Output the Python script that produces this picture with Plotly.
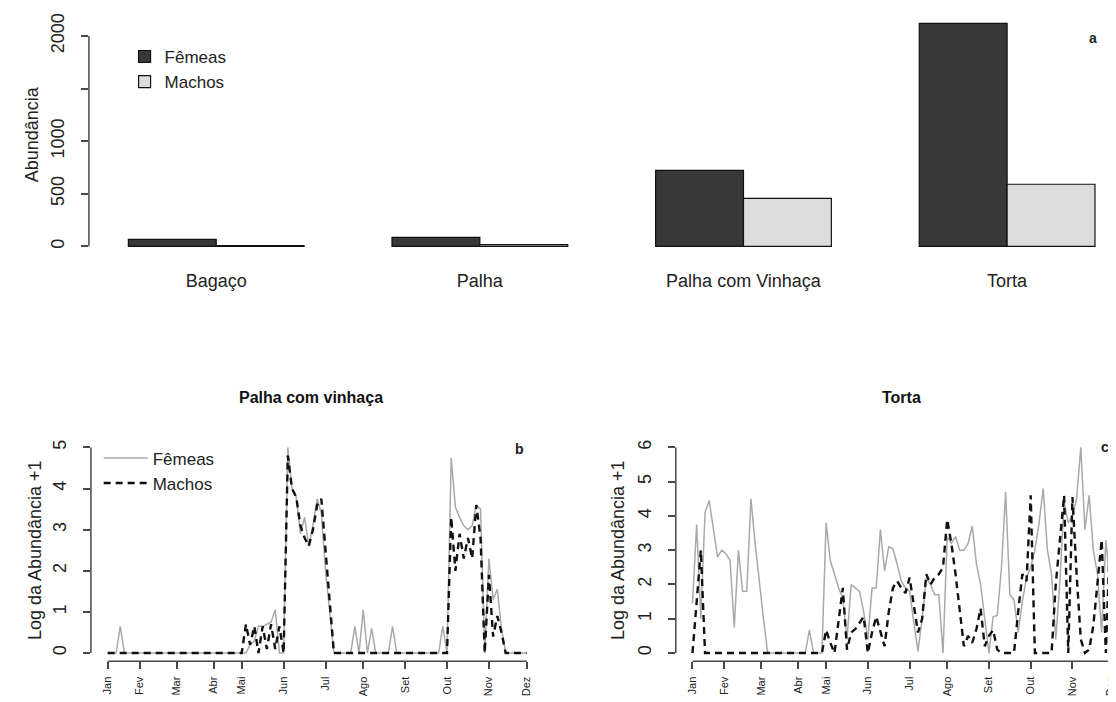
import plotly.graph_objects as go

# ---------------- data ----------------
CATEGORIES = ["Bagaço", "Palha", "Palha com Vinhaça", "Torta"]
FEMEAS_TOTAL = [66, 86, 722, 2120]
MACHOS_TOTAL = [6, 16, 455, 590]

MONTHS = ["Jan", "Fev", "Mar", "Abr", "Mai", "Jun", "Jul", "Ago", "Set", "Out", "Nov", "Dez"]
MONTH_POS = [0, 7.6, 16.5, 25.3, 32, 42, 52, 61, 71, 81, 91, 100]
SAMPLE = list(range(101))

PV_FEMEAS = [
    0, 0, 0, 0.65, 0, 0, 0, 0, 0, 0,
    0, 0, 0, 0, 0, 0, 0, 0, 0, 0,
    0, 0, 0, 0, 0, 0, 0, 0, 0, 0,
    0, 0, 0, 0, 0.2, 0.3, 0.65, 0.65, 0.7, 0.75,
    1.05, 0, 0, 5.0, 4.0, 3.8, 2.9, 3.3, 2.6, 3.1,
    3.75, 3.4, 2.0, 1.0, 0, 0, 0, 0, 0, 0.65,
    0, 1.05, 0, 0.6, 0, 0, 0, 0, 0.65, 0,
    0, 0, 0, 0, 0, 0, 0, 0, 0, 0,
    0.65, 0, 4.75, 3.55, 3.3, 3.1, 3.0, 3.1, 3.6, 3.5,
    0, 2.3, 1.3, 1.55, 0.6, 0, 0, 0, 0, 0,
    0,
]
PV_MACHOS = [
    0, 0, 0, 0, 0, 0, 0, 0, 0, 0,
    0, 0, 0, 0, 0, 0, 0, 0, 0, 0,
    0, 0, 0, 0, 0, 0, 0, 0, 0, 0,
    0, 0, 0, 0.7, 0.2, 0.65, 0, 0.65, 0.1, 0.7,
    0.1, 0.65, 0, 4.8, 4.0, 3.8, 3.1, 2.8, 2.6, 3.0,
    3.6, 3.75, 2.5, 1.1, 0, 0, 0, 0, 0, 0,
    0, 0, 0, 0, 0, 0, 0, 0, 0, 0,
    0, 0, 0, 0, 0, 0, 0, 0, 0, 0,
    0, 0, 3.3, 2.0, 2.9, 2.3, 2.8, 2.3, 3.6, 2.8,
    0, 1.9, 0.4, 0.9, 0.5, 0, 0, 0, 0, 0,
    0,
]
TO_FEMEAS = [
    1.45, 3.75, 1.0, 4.1, 4.45, 3.6, 2.8, 3.0, 2.9, 2.7,
    0.75, 3.0, 1.8, 1.8, 4.5, 3.2, 2.0, 1.0, 0, 0,
    0, 0, 0, 0, 0, 0, 0, 0, 0.67, 0,
    0, 0, 3.8, 2.7, 2.3, 1.9, 1.6, 0.4, 2.0, 1.9,
    1.8, 1.2, 0.4, 1.9, 1.9, 3.6, 2.4, 3.1, 3.05, 2.6,
    2.1, 1.9, 1.8, 0.9, 0.05, 1.0, 2.2, 2.0, 1.7, 1.7,
    0, 3.4, 3.2, 3.4, 3.0, 3.0, 3.2, 3.7, 2.6, 2.0,
    1.0, 0, 1.06, 1.1, 2.5, 4.7, 1.7, 1.55, 0.6, 1.5,
    2.2, 2.5, 3.0, 3.8, 4.8, 3.0, 2.3, 0.4, 2.1, 4.4,
    3.8, 4.0, 4.5, 6.0, 3.6, 4.6, 3.0, 2.3, 0.6, 3.3,
    2.0,
]
TO_MACHOS = [
    0, 1.5, 3.0, 0, 0, 0, 0, 0, 0, 0,
    0, 0, 0, 0, 0, 0, 0, 0, 0, 0,
    0, 0, 0, 0, 0, 0, 0, 0, 0, 0,
    0, 0, 0.67, 0.3, 0, 1.0, 1.9, 0.1, 0.6, 0.7,
    0.9, 1.06, 0, 0.6, 1.06, 0.6, 0.2, 1.2, 1.9, 2.1,
    1.9, 1.75, 2.2, 1.4, 0.6, 1.0, 2.3, 2.0, 2.2, 2.3,
    2.5, 3.9, 3.2, 2.3, 1.2, 0.2, 0.5, 0.3, 0.7, 1.3,
    0.2, 0.5, 0.67, 0.1, 0, 0, 0, 0, 1.2, 2.3,
    2.1, 4.6, 0, 0, 0, 0, 0, 2.0, 3.3, 4.6,
    0, 4.55, 2.3, 0.4, 0, 0.1, 0.8, 2.0, 3.3, 0,
    3.4,
]

# ---------------- layout helpers ----------------
W, H = 1116, 702
OFF = 8  # the page body margin shifts the figure by 8 px
FONT = "Liberation Sans, Arial, Helvetica, sans-serif"
INK = "#222222"
AXC = "#484848"


def fx(px):
    return (px - OFF) / W


def fy(py):
    return 1 - (py - OFF) / H


fig = go.Figure()

# top bar chart
fig.add_trace(go.Bar(x=CATEGORIES, y=FEMEAS_TOTAL, name="Fêmeas",
                     marker=dict(color="#383838", line=dict(color="#111111", width=1.2)),
                     xaxis="x", yaxis="y", legend="legend"))
fig.add_trace(go.Bar(x=CATEGORIES, y=MACHOS_TOTAL, name="Machos",
                     marker=dict(color="#dcdcdc", line=dict(color="#111111", width=1.2)),
                     xaxis="x", yaxis="y", legend="legend"))

# bottom-left: Palha com vinhaça
fig.add_trace(go.Scatter(x=SAMPLE, y=PV_FEMEAS, mode="lines", name="Fêmeas",
                         line=dict(color="#a9a9a9", width=1.5),
                         xaxis="x2", yaxis="y2", legend="legend2"))
fig.add_trace(go.Scatter(x=SAMPLE, y=PV_MACHOS, mode="lines", name="Machos",
                         line=dict(color="#111111", width=2.4, dash="7px,5px"),
                         xaxis="x2", yaxis="y2", legend="legend2"))

# bottom-right: Torta
fig.add_trace(go.Scatter(x=SAMPLE, y=TO_FEMEAS, mode="lines", name="Fêmeas",
                         line=dict(color="#a9a9a9", width=1.5),
                         xaxis="x3", yaxis="y3", showlegend=False))
fig.add_trace(go.Scatter(x=SAMPLE, y=TO_MACHOS, mode="lines", name="Machos",
                         line=dict(color="#111111", width=2.4, dash="7px,5px"),
                         xaxis="x3", yaxis="y3", showlegend=False))

tickfont_big = dict(family=FONT, size=18, color=INK)
month_font = dict(family=FONT, size=11, color=INK)
title_font = dict(family=FONT, size=18, color=INK)

common_y = dict(showgrid=False, zeroline=False, showline=False, ticks="outside",
                ticklen=7, tickwidth=1.5, tickcolor=AXC, tickangle=-90,
                tickfont=tickfont_big, ticklabelstandoff=10)

common_x_month = dict(showgrid=False, zeroline=False, showline=False, ticks="outside",
                      ticklen=7, tickwidth=1.5, tickcolor=AXC,
                      tickvals=MONTH_POS, ticktext=MONTHS, tickangle=-90,
                      tickfont=month_font, ticklabelstandoff=3)

fig.update_layout(
    width=W, height=H, autosize=False,
    margin=dict(l=0, r=0, t=0, b=0),
    paper_bgcolor="white", plot_bgcolor="white",
    font=dict(family=FONT, color=INK),
    barmode="group", bargap=1/3, bargroupgap=0,
    showlegend=True,
    xaxis=dict(domain=[fx(89.2), fx(1116)], range=[-0.483, 3.398], anchor="y",
               showgrid=False, zeroline=False, showline=False, ticks="",
               tickfont=dict(family=FONT, size=18, color=INK),
               ticklabelstandoff=13),
    yaxis=dict(domain=[fy(254.6), fy(13.4)], range=[-84.8, 2204.8], anchor="x",
               tickvals=[0, 500, 1000, 1500, 2000],
               ticktext=["0", "500", "1000", "", "2000"],
               title=dict(text="Abundância", font=title_font, standoff=4),
               **common_y),
    xaxis2=dict(domain=[fx(91.2), fx(545.3)], range=[-4, 104], anchor="y2",
                **common_x_month),
    yaxis2=dict(domain=[fy(661.2), fy(438.8)], range=[-0.2, 5.2], anchor="x2",
                tickvals=[0, 1, 2, 3, 4, 5],
                title=dict(text="Log da Abundância +1", font=title_font, standoff=3),
                **common_y),
    xaxis3=dict(domain=[fx(678.2), fx(1116)], range=[-4, 100.48], anchor="y3",
                **common_x_month),
    yaxis3=dict(domain=[fy(661.2), fy(438.8)], range=[-0.24, 6.24], anchor="x3",
                tickvals=[0, 1, 2, 3, 4, 5, 6],
                title=dict(text="Log da Abundância +1", font=title_font, standoff=5),
                **common_y),
    legend=dict(x=fx(125), y=fy(38), xanchor="left", yanchor="top",
                bgcolor="rgba(0,0,0,0)", borderwidth=0,
                font=dict(family=FONT, size=17, color=INK),
                itemwidth=30, tracegroupgap=0),
    legend2=dict(x=fx(99), y=fy(440), xanchor="left", yanchor="top",
                 bgcolor="rgba(0,0,0,0)", borderwidth=0,
                 font=dict(family=FONT, size=17, color=INK),
                 itemwidth=44, tracegroupgap=0),
)

# R-style axis lines spanning only the tick range
line_style = dict(color=AXC, width=1.5)
shapes = [
    dict(type="line", xref="x domain", yref="y", x0=0, x1=0, y0=0, y1=2000, line=line_style),
    dict(type="line", xref="x2 domain", yref="y2", x0=0, x1=0, y0=0, y1=5, line=line_style),
    dict(type="line", xref="x2", yref="y2 domain", x0=MONTH_POS[0], x1=MONTH_POS[-1], y0=0, y1=0, line=line_style),
    dict(type="line", xref="x3 domain", yref="y3", x0=0, x1=0, y0=0, y1=6, line=line_style),
    dict(type="line", xref="x3", yref="y3 domain", x0=MONTH_POS[0], x1=MONTH_POS[-1], y0=0, y1=0, line=line_style),
]
fig.update_layout(shapes=shapes)

lab = dict(xref="paper", yref="paper", showarrow=False, xanchor="center", yanchor="middle")
annotations = [
    dict(text="<b>Palha com vinhaça</b>", x=fx(312), y=fy(397),
         font=dict(family=FONT, size=16, color="#111111"), **lab),
    dict(text="<b>Torta</b>", x=fx(905), y=fy(397),
         font=dict(family=FONT, size=16, color="#111111"), **lab),
    dict(text="<b>a</b>", x=fx(1097), y=fy(37),
         font=dict(family=FONT, size=14, color=INK), **lab),
    dict(text="<b>b</b>", x=fx(521), y=fy(449),
         font=dict(family=FONT, size=14, color=INK), **lab),
    dict(text="<b>c</b>", x=fx(1109), y=fy(447),
         font=dict(family=FONT, size=14, color=INK), **lab),
]
fig.update_layout(annotations=annotations)

fig.write_html("out.html")
